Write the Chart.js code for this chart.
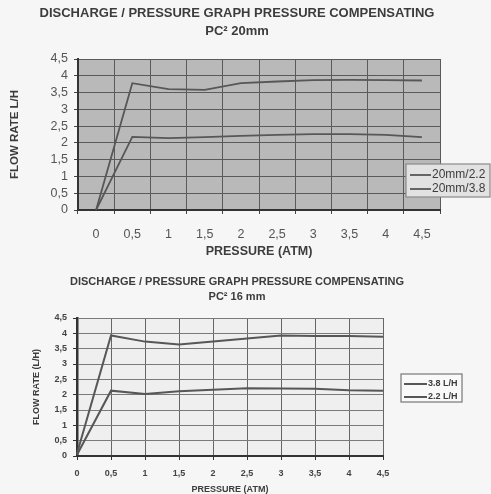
<!DOCTYPE html>
<html>
<head>
<meta charset="utf-8">
<script src="https://cdn.jsdelivr.net/npm/chart.js@4.4.1/dist/chart.umd.min.js"></script>
<style>
  html, body { margin: 0; padding: 0; background: #f6f6f6; }
  #wrap { position: relative; width: 491px; height: 494px; overflow: hidden; }
  .panel { position: absolute; left: 0; width: 491px; }
  #top { top: 0; height: 262px; }
  #bottom { top: 262px; height: 232px; }
</style>
</head>
<body>
<div id="wrap">
  <div class="panel" id="top"><canvas id="chart20"></canvas></div>
  <div class="panel" id="bottom"><canvas id="chart16"></canvas></div>
</div>
<script>
'use strict';

// pressure categories (ATM) and flow tick labels, comma decimals as printed
var pressures = ['0', '0,5', '1', '1,5', '2', '2,5', '3', '3,5', '4', '4,5'];
var flowTicks = ['0', '0,5', '1', '1,5', '2', '2,5', '3', '3,5', '4', '4,5'];

// PC2 20mm, flow rate L/H
var flow20mm22 = [0, 2.18, 2.14, 2.17, 2.21, 2.24, 2.26, 2.26, 2.24, 2.17];
var flow20mm38 = [0, 3.78, 3.6, 3.58, 3.78, 3.83, 3.87, 3.88, 3.87, 3.86];

// PC2 16mm, flow rate L/H
var flow16mm38 = [0.08, 3.93, 3.73, 3.64, 3.73, 3.83, 3.93, 3.91, 3.91, 3.89];
var flow16mm22 = [0.04, 2.13, 2.02, 2.11, 2.16, 2.21, 2.2, 2.19, 2.14, 2.13];

var FONT = "'Liberation Sans', Arial, sans-serif";
var INK = '#3c3c3c';
var LINE = '#575757';

// Heading text drawn above the plot
function makeHeading(lines, centerX, firstY, gap, font) {
  return {
    id: 'heading',
    afterDraw: function (chart) {
      var ctx = chart.ctx;
      ctx.save();
      ctx.fillStyle = INK;
      ctx.font = font;
      ctx.textAlign = 'center';
      ctx.textBaseline = 'middle';
      for (var i = 0; i < lines.length; i++) {
        ctx.fillText(lines[i], centerX, firstY + i * gap);
      }
      ctx.restore();
    }
  };
}

// Boxed legend placed like the printed one
function makeLegend(box, font) {
  return {
    id: 'boxLegend',
    afterDraw: function (chart) {
      var ctx = chart.ctx;
      ctx.save();
      ctx.fillStyle = box.fill;
      ctx.strokeStyle = box.stroke;
      ctx.lineWidth = 1.2;
      ctx.fillRect(box.x, box.y, box.w, box.h);
      ctx.strokeRect(box.x, box.y, box.w, box.h);
      ctx.font = font;
      ctx.textBaseline = 'middle';
      chart.data.datasets.forEach(function (ds, i) {
        var rowY = box.y + box.firstRow + i * box.rowGap;
        var x0 = box.x + box.lineStart;
        ctx.strokeStyle = ds.borderColor;
        ctx.lineWidth = ds.borderWidth;
        ctx.beginPath();
        ctx.moveTo(x0, rowY);
        ctx.lineTo(x0 + box.lineLength, rowY);
        ctx.stroke();
        ctx.fillStyle = INK;
        ctx.fillText(ds.label, x0 + box.lineLength + 1, rowY);
      });
      ctx.restore();
    }
  };
}

function plotFill(color) {
  return {
    id: 'plotFill',
    beforeDraw: function (chart) {
      var a = chart.chartArea;
      chart.ctx.save();
      chart.ctx.fillStyle = color;
      chart.ctx.fillRect(a.left, a.top, a.right - a.left, a.bottom - a.top);
      chart.ctx.restore();
    }
  };
}

function lineSet(label, data, width) {
  return {
    label: label,
    data: data,
    borderColor: LINE,
    borderWidth: width,
    pointRadius: 0,
    tension: 0,
    fill: false
  };
}

// ---- PC2 20mm ----
new Chart(document.getElementById('chart20'), {
  type: 'line',
  data: {
    labels: pressures,
    datasets: [
      lineSet('20mm/2.2', flow20mm22, 1.8),
      lineSet('20mm/3.8', flow20mm38, 1.8)
    ]
  },
  options: {
    responsive: true,
    maintainAspectRatio: false,
    animation: false,
    devicePixelRatio: 1,
    layout: { padding: { left: 0, right: 51, top: 59, bottom: 0 } },
    plugins: { legend: { display: false }, tooltip: { enabled: false }, title: { display: false } },
    scales: {
      x: {
        type: 'category',
        offset: true,
        grid: { offset: true, color: '#5a5a5a', lineWidth: 1, tickLength: 4, tickColor: '#444' },
        border: { color: '#333', width: 2 },
        ticks: { color: '#555', padding: 13, maxRotation: 0, autoSkip: false, font: { family: FONT, size: 12.5 } },
        title: { display: true, text: 'PRESSURE (ATM)', color: INK, padding: { top: 0, bottom: 3 }, font: { family: FONT, size: 12.5, weight: 'bold' } },
        afterFit: function (scale) { scale.height = 52; }
      },
      y: {
        min: 0,
        max: 4.5,
        grid: { color: '#5a5a5a', lineWidth: 1, tickLength: 4, tickColor: '#444' },
        border: { color: '#333', width: 2 },
        ticks: {
          stepSize: 0.5,
          autoSkip: false,
          padding: 6,
          color: '#555',
          font: { family: FONT, size: 12.5 },
          callback: function (value, index) { return flowTicks[index]; }
        },
        title: { display: true, text: 'FLOW RATE L/H', color: INK, padding: { top: 8, bottom: 0 }, font: { family: FONT, size: 11.5, weight: 'bold' } },
        afterFit: function (scale) { scale.width = 78; }
      }
    }
  },
  plugins: [
    plotFill('#b9b9b9'),
    makeHeading(['DISCHARGE / PRESSURE GRAPH PRESSURE COMPENSATING', 'PC\u00B2 20mm'], 237, 13, 18, 'bold 13px ' + FONT),
    makeLegend({ x: 406, y: 164, w: 84, h: 33, firstRow: 11, rowGap: 14, lineStart: 4, lineLength: 21, fill: '#e2e2e2', stroke: '#8a8a8a' }, '12px ' + FONT)
  ]
});

// ---- PC2 16mm ----
new Chart(document.getElementById('chart16'), {
  type: 'line',
  data: {
    labels: pressures,
    datasets: [
      lineSet('3.8 L/H', flow16mm38, 2),
      lineSet('2.2 L/H', flow16mm22, 2)
    ]
  },
  options: {
    responsive: true,
    maintainAspectRatio: false,
    animation: false,
    devicePixelRatio: 1,
    layout: { padding: { left: 0, right: 108, top: 56, bottom: 0 } },
    plugins: { legend: { display: false }, tooltip: { enabled: false }, title: { display: false } },
    scales: {
      x: {
        type: 'category',
        offset: false,
        grid: { color: '#666', lineWidth: 1, tickLength: 4, tickColor: '#333' },
        border: { color: '#333', width: 2 },
        ticks: { color: '#444', padding: 8, maxRotation: 0, autoSkip: false, font: { family: FONT, size: 9, weight: 'bold' } },
        title: { display: true, text: 'PRESSURE (ATM)', color: INK, padding: { top: 0, bottom: 0 }, font: { family: FONT, size: 9, weight: 'bold', lineHeight: 1.1 } },
        afterFit: function (scale) { scale.height = 38; }
      },
      y: {
        min: 0,
        max: 4.5,
        grid: { color: '#7a7a7a', lineWidth: 1, tickLength: 4, tickColor: '#333' },
        border: { color: '#333', width: 2.5 },
        ticks: {
          stepSize: 0.5,
          autoSkip: false,
          padding: 6,
          color: '#444',
          font: { family: FONT, size: 9, weight: 'bold' },
          callback: function (value, index) { return flowTicks[index]; }
        },
        title: { display: true, text: 'FLOW RATE (L/H)', color: INK, padding: { top: 31, bottom: 0 }, font: { family: FONT, size: 9, weight: 'bold' } },
        afterFit: function (scale) { scale.width = 77; }
      }
    }
  },
  plugins: [
    plotFill('#efefef'),
    makeHeading(['DISCHARGE / PRESSURE GRAPH PRESSURE COMPENSATING', 'PC\u00B2 16 mm'], 237, 20, 15, 'bold 11px ' + FONT),
    makeLegend({ x: 401, y: 112, w: 61, h: 28, firstRow: 10, rowGap: 13, lineStart: 3, lineLength: 23, fill: '#f9f9f9', stroke: '#777' }, 'bold 9px ' + FONT)
  ]
});
</script>
</body>
</html>
